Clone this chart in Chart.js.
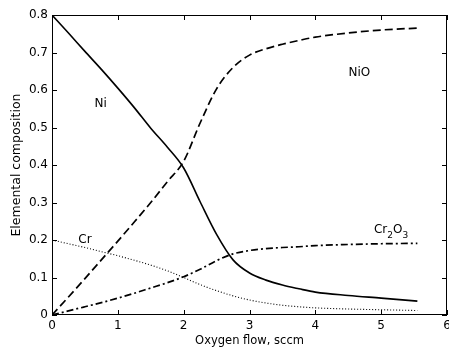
<!DOCTYPE html>
<html>
<head>
<script src="https://cdn.jsdelivr.net/npm/chart.js@4.4.0/dist/chart.umd.min.js"></script>
<style>
  body { margin: 0; background: #fff; }
</style>
</head>
<body>
<canvas id="chart" width="449" height="351"></canvas>
<script>
// oxygen flow (sccm) and elemental composition
var flow  = [0, 0.25, 0.5, 0.75, 1, 1.25, 1.5, 1.75, 2, 2.25, 2.5, 2.75, 3, 3.25, 3.5, 3.75, 4, 4.5, 5, 5.55];
var ni    = [0.8, 0.752, 0.703, 0.655, 0.605, 0.553, 0.498, 0.448, 0.392, 0.302, 0.215, 0.147, 0.112, 0.093, 0.080, 0.070, 0.061, 0.052, 0.045, 0.037];
var nio   = [0, 0.048, 0.097, 0.147, 0.197, 0.248, 0.300, 0.355, 0.410, 0.512, 0.603, 0.660, 0.693, 0.710, 0.722, 0.732, 0.741, 0.752, 0.760, 0.765];
var cr    = [0.2, 0.19, 0.18, 0.169, 0.158, 0.146, 0.133, 0.118, 0.100, 0.081, 0.065, 0.051, 0.040, 0.032, 0.026, 0.022, 0.019, 0.016, 0.014, 0.012];
var cr2o3 = [0, 0.011, 0.022, 0.033, 0.045, 0.058, 0.072, 0.086, 0.102, 0.122, 0.145, 0.163, 0.172, 0.177, 0.180, 0.182, 0.185, 0.188, 0.190, 0.191];

var xTicks = [0, 1, 2, 3, 4, 5, 6];
var yTicks = [0, 0.1, 0.2, 0.3, 0.4, 0.5, 0.6, 0.7, 0.8];

function pts(ys) {
  return flow.map(function (x, i) { return {x: x, y: ys[i]}; });
}

function line(label, ys, dash, width) {
  return {
    label: label,
    data: pts(ys),
    borderColor: '#000',
    borderWidth: width,
    borderDash: dash,
    pointRadius: 0,
    fill: false,
    cubicInterpolationMode: 'monotone'
  };
}

// box round the plot, inward ticks on all four sides, curve labels
var frame = {
  id: 'frame',
  afterDatasetsDraw: function (chart) {
    var ctx = chart.ctx, a = chart.chartArea;
    var xs = chart.scales.x, ys = chart.scales.y;
    var tl = 5;
    ctx.save();
    ctx.strokeStyle = '#000';
    ctx.lineWidth = 1;
    ctx.strokeRect(a.left + 0.5, a.top + 0.5, a.right - a.left - 1, a.bottom - a.top - 1);
    ctx.beginPath();
    xTicks.forEach(function (v) {
      var px = Math.round(xs.getPixelForValue(v)) + 0.5;
      ctx.moveTo(px, a.bottom); ctx.lineTo(px, a.bottom - tl);
      ctx.moveTo(px, a.top); ctx.lineTo(px, a.top + tl);
    });
    yTicks.forEach(function (v) {
      var py = Math.round(ys.getPixelForValue(v)) + 0.5;
      ctx.moveTo(a.left, py); ctx.lineTo(a.left + tl, py);
      ctx.moveTo(a.right, py); ctx.lineTo(a.right - tl, py);
    });
    ctx.stroke();

    ctx.fillStyle = '#000';
    ctx.font = '12px "DejaVu Sans"';
    ctx.textAlign = 'center';
    ctx.textBaseline = 'middle';
    ctx.fillText('Ni', xs.getPixelForValue(0.74), ys.getPixelForValue(0.563));
    ctx.fillText('NiO', xs.getPixelForValue(4.67), ys.getPixelForValue(0.647));
    ctx.fillText('Cr', xs.getPixelForValue(0.5), ys.getPixelForValue(0.2));

    // Cr2O3 with subscripts
    ctx.textAlign = 'left';
    ctx.textBaseline = 'alphabetic';
    var x0 = xs.getPixelForValue(4.89), y0 = ys.getPixelForValue(0.219);
    var parts = [['Cr', 0, 12], ['2', 5, 9], ['O', 0, 12], ['3', 5, 9]];
    parts.forEach(function (p) {
      ctx.font = p[2] + 'px "DejaVu Sans"';
      ctx.fillText(p[0], x0, y0 + p[1]);
      x0 += ctx.measureText(p[0]).width;
    });
    ctx.restore();
  }
};

new Chart(document.getElementById('chart'), {
  type: 'line',
  data: {
    datasets: [
      line('Ni', ni, [], 1.6),
      line('NiO', nio, [8, 4], 1.7),
      line('Cr', cr, [1, 2], 1.1),
      line('Cr2O3', cr2o3, [7, 3, 2, 3], 1.7)
    ]
  },
  options: {
    responsive: false,
    animation: false,
    layout: { padding: { top: 15, right: 2, left: 0, bottom: 0 }, autoPadding: false },
    plugins: { legend: { display: false }, tooltip: { enabled: false } },
    scales: {
      x: {
        type: 'linear',
        min: 0, max: 6,
        grid: { display: false, drawTicks: false },
        border: { display: false },
        afterFit: function (s) { s.height = 36; s.paddingLeft = 0; s.paddingRight = 0; },
        afterBuildTicks: function (s) { s.ticks = xTicks.map(function (v) { return {value: v}; }); },
        ticks: {
          color: '#000', padding: 4,
          font: { family: 'DejaVu Sans', size: 12 },
          maxRotation: 0,
          callback: function (v) { return String(v); }
        },
        title: {
          display: true, text: 'Oxygen flow, sccm', color: '#000',
          font: { family: 'DejaVu Sans', size: 11.5 },
          padding: { top: 0, bottom: 3 }
        }
      },
      y: {
        min: 0, max: 0.8,
        grid: { display: false, drawTicks: false },
        border: { display: false },
        afterFit: function (s) { s.width = 52; s.paddingTop = 0; s.paddingBottom = 0; },
        afterBuildTicks: function (s) { s.ticks = yTicks.map(function (v) { return {value: v}; }); },
        ticks: {
          color: '#000', padding: 4,
          font: { family: 'DejaVu Sans', size: 12 },
          callback: function (v) { return v === 0 ? '0' : v.toFixed(1); }
        },
        title: {
          display: true, text: 'Elemental composition', color: '#000',
          font: { family: 'DejaVu Sans', size: 12.5 },
          padding: { top: 9, bottom: 0 }
        }
      }
    }
  },
  plugins: [frame]
});
</script>
</body>
</html>
